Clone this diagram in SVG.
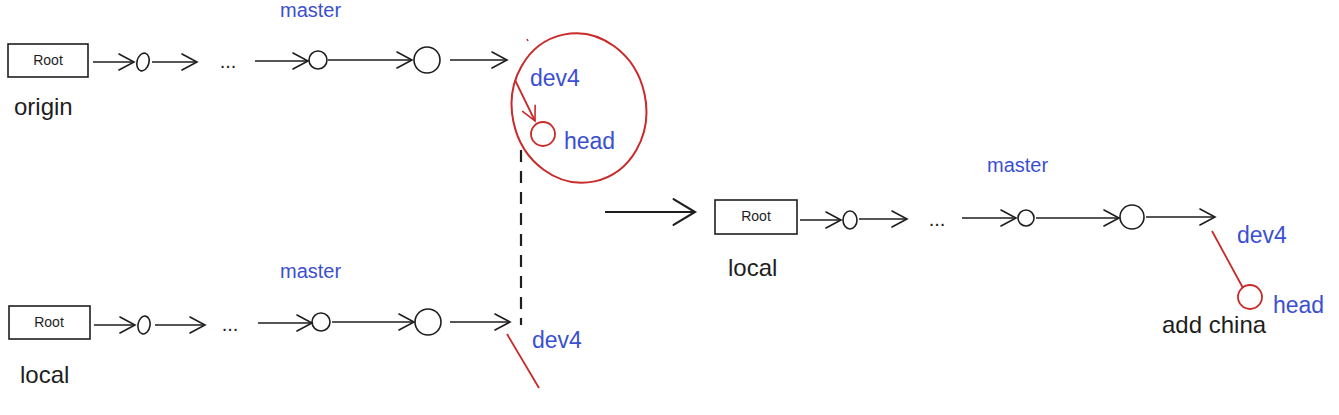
<svg xmlns="http://www.w3.org/2000/svg" width="1339" height="415" viewBox="0 0 1339 415">
<defs>
<marker id="ah" markerUnits="userSpaceOnUse" markerWidth="20" markerHeight="20" viewBox="-16 -10 20 20" refX="0" refY="0" orient="auto">
<path d="M-15,-8 L0,0 L-15,8" fill="none" stroke="#1e1e1e" stroke-width="1.6" stroke-linecap="round"/>
</marker>
<marker id="ahBig" markerUnits="userSpaceOnUse" markerWidth="30" markerHeight="30" viewBox="-22 -14 26 28" refX="0" refY="0" orient="auto">
<path d="M-20,-12 L0,0 L-20,12" fill="none" stroke="#1e1e1e" stroke-width="2" stroke-linecap="round"/>
</marker>
<marker id="ahRed" markerUnits="userSpaceOnUse" markerWidth="20" markerHeight="20" viewBox="-16 -10 20 20" refX="0" refY="0" orient="auto">
<path d="M-14,-7 L0,0 L-14,7" fill="none" stroke="#c92a2a" stroke-width="1.6" stroke-linecap="round"/>
</marker>
</defs>
<style>
.box{fill:#fff;stroke:#1e1e1e;stroke-width:1.6}
.c{fill:none;stroke:#1e1e1e;stroke-width:1.6}
.cr{fill:none;stroke:#c92a2a;stroke-width:1.8}
.a{fill:none;stroke:#1e1e1e;stroke-width:1.6;marker-end:url(#ah)}
.rt{font-family:"Liberation Sans",Arial,sans-serif;font-size:14px;fill:#1e1e1e;text-anchor:middle}
.lb{font-family:"Liberation Sans",Arial,sans-serif;font-size:24px;fill:#1e1e1e}
.bl{font-family:"Liberation Sans",Arial,sans-serif;font-size:20px;fill:#3b4fd1}
.bb{font-family:"Liberation Sans",Arial,sans-serif;font-size:23px;fill:#3b4fd1}
.dots{font-family:"Liberation Sans",Arial,sans-serif;font-size:20px;fill:#1e1e1e;text-anchor:middle}
</style>

<g id="connectors">
<!-- top row -->
<line class="a" x1="93" y1="62" x2="134" y2="62"/>
<line class="a" x1="152" y1="62" x2="197" y2="62"/>
<line class="a" x1="255" y1="61" x2="308" y2="61"/>
<line class="a" x1="328" y1="60" x2="412" y2="60"/>
<line class="a" x1="450" y1="60" x2="507" y2="60"/>
<!-- bottom row -->
<line class="a" x1="94" y1="325" x2="135" y2="325"/>
<line class="a" x1="155" y1="325" x2="205" y2="325"/>
<line class="a" x1="258" y1="323" x2="312" y2="323"/>
<line class="a" x1="332" y1="322" x2="414" y2="322"/>
<line class="a" x1="450" y1="322" x2="510" y2="322"/>
<!-- right row -->
<line class="a" x1="800" y1="220" x2="841" y2="220"/>
<line class="a" x1="859" y1="219" x2="907" y2="219"/>
<line class="a" x1="962" y1="218" x2="1016" y2="218"/>
<line class="a" x1="1036" y1="218" x2="1119" y2="218"/>
<line class="a" x1="1146" y1="217" x2="1215" y2="217"/>
<!-- big arrow -->
<line x1="605" y1="212" x2="695" y2="212" fill="none" stroke="#1e1e1e" stroke-width="2" marker-end="url(#ahBig)"/>
<!-- dashed -->
<line x1="521" y1="150" x2="521" y2="325" stroke="#1e1e1e" stroke-width="2.2" stroke-dasharray="12 9"/>
<!-- red -->
<line x1="515" y1="80" x2="535" y2="121" fill="none" stroke="#c92a2a" stroke-width="1.8" marker-end="url(#ahRed)"/>
<line x1="507" y1="334" x2="539" y2="388" stroke="#c92a2a" stroke-width="1.8"/>
<line x1="1212" y1="231" x2="1243" y2="288" stroke="#c92a2a" stroke-width="1.8"/>
<line x1="527" y1="39" x2="528" y2="41" stroke="#c92a2a" stroke-width="1.5"/>
</g>

<g id="origin-row">
<g id="root-origin"><rect class="box" x="8" y="44" width="80" height="33"/><text class="rt" x="48" y="65">Root</text></g>
<g id="o1"><ellipse class="c" cx="143" cy="62" rx="6" ry="9" transform="rotate(15 143 62)"/></g>
<g id="odots"><text class="dots" x="228" y="68">...</text></g>
<g id="o2"><circle class="c" cx="318" cy="60" r="9"/></g>
<g id="o3"><circle class="c" cx="427" cy="60" r="13"/></g>
<g id="origin-label"><text class="lb" x="14" y="115">origin</text></g>
<g id="master-top"><text class="bl" x="280" y="17">master</text></g>
<g id="dev4-group">
<ellipse cx="579" cy="108" rx="67" ry="75" fill="none" stroke="#c92a2a" stroke-width="2" transform="rotate(-12 579 108)"/>
<text class="bb" x="530" y="86">dev4</text>
<circle class="cr" cx="543" cy="134" r="12"/>
<text class="bb" x="564" y="149">head</text>
</g>
</g>

<g id="local-row">
<g id="root-local"><rect class="box" x="9" y="306" width="81" height="33"/><text class="rt" x="49" y="327">Root</text></g>
<g id="l1"><ellipse class="c" cx="144" cy="325" rx="6" ry="9" transform="rotate(10 144 325)"/></g>
<g id="ldots"><text class="dots" x="230" y="331">...</text></g>
<g id="l2"><circle class="c" cx="321" cy="322" r="9"/></g>
<g id="l3"><circle class="c" cx="428" cy="322" r="13"/></g>
<g id="local-label"><text class="lb" x="20" y="383">local</text></g>
<g id="master-mid"><text class="bl" x="280" y="278">master</text></g>
<g id="dev4-mid"><text class="bb" x="532" y="348">dev4</text></g>
</g>

<g id="result-row">
<g id="root-result"><rect class="box" x="715" y="200" width="82" height="34"/><text class="rt" x="756" y="221">Root</text></g>
<g id="r1"><ellipse class="c" cx="850" cy="220" rx="7" ry="9"/></g>
<g id="rdots"><text class="dots" x="937" y="226">...</text></g>
<g id="r2"><circle class="c" cx="1026" cy="218" r="8"/></g>
<g id="r3"><circle class="c" cx="1132" cy="217" r="12"/></g>
<g id="local-label-r"><text class="lb" x="728" y="276">local</text></g>
<g id="master-r"><text class="bl" x="987" y="172">master</text></g>
<g id="dev4-r"><text class="bb" x="1237" y="243">dev4</text></g>
<g id="head-r"><circle class="cr" cx="1250" cy="297" r="12"/><text class="bb" x="1273" y="313">head</text></g>
<g id="addchina"><text class="lb" x="1162" y="333">add china</text></g>
</g>
</svg>
